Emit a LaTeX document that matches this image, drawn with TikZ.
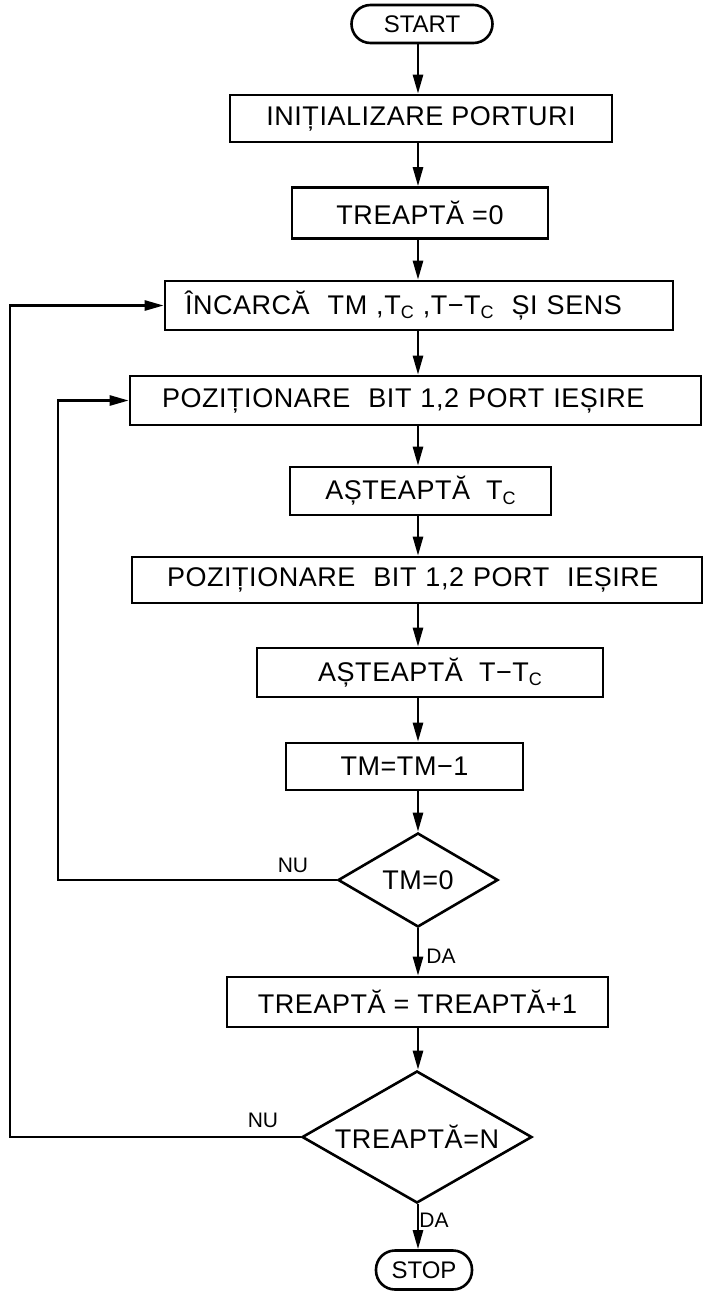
\documentclass[tikz,border=0pt]{standalone}
\usepackage{fontspec}
\setmainfont{Liberation Sans}
\newfontfamily\lettering{Liberation Sans}[LetterSpace=2]
\usetikzlibrary{arrows.meta,shapes.geometric}
\newcommand{\sbc}[1]{\raisebox{-0.3ex}{\fontsize{18}{18}\selectfont #1}}
\tikzset{
  box/.style={draw, line width=2.6pt, rectangle, inner sep=0pt,
    font=\lettering\fontsize{27}{32}\selectfont},
  term/.style={draw, line width=2.6pt, rectangle, rounded corners=19pt, inner sep=0pt,
    font=\fontsize{24}{28}\selectfont},
  dec/.style={draw, line width=2.6pt, diamond, aspect=1.7, inner sep=0pt,
    font=\lettering\fontsize{27}{32}\selectfont},
  arr/.style={line width=2.6pt, -{Triangle[length=19pt,width=10pt]}},
  lab/.style={inner sep=0pt, font=\fontsize{21}{25}\selectfont}
}
\begin{document}
\begin{tikzpicture}[x=1pt,y=-1pt]
\useasboundingbox (0,0) rectangle (703,1291);

\node[term, minimum width=141pt, minimum height=38pt] (start) at (422,24) {START};
\node[box, minimum width=382pt, minimum height=47pt] (init) at (421,118.5) {INIȚIALIZARE PORTURI};
\node[box, minimum width=256pt, minimum height=51pt] (t0) at (420,213) {TREAPTĂ =0};
\node[box, minimum height=49pt, text width=468pt, inner xsep=20pt, align=left] (load) at (419,305.5)
  {ÎNCARCĂ \ TM ,T\sbc{C} ,T−T\sbc{C}\ \ ȘI SENS};
\node[box, minimum height=49pt, text width=507pt, inner xsep=32pt, align=left] (poz1) at (415.5,400.5)
  {POZIȚIONARE \ BIT 1,2 PORT IEȘIRE};
\node[box, minimum width=261pt, minimum height=48pt] (ast1) at (420.5,491) {AȘTEAPTĂ \ T\sbc{C}};
\node[box, minimum height=46pt, text width=500pt, inner xsep=35pt, align=left] (poz2) at (417,580)
  {POZIȚIONARE\ \ BIT 1,2 PORT \ IEȘIRE};
\node[box, minimum width=346pt, minimum height=49pt] (ast2) at (430,672.5) {AȘTEAPTĂ\ \ T−T\sbc{C}};
\node[box, minimum width=237pt, minimum height=47pt] (tm) at (404.5,766.5) {TM=TM−1};
\node[dec, minimum width=160pt, minimum height=94pt] (d1) at (418,880) {TM=0};
\node[box, minimum width=381pt, minimum height=50pt] (inc) at (417.5,1002) {TREAPTĂ = TREAPTĂ+1};
\node[dec, minimum width=230pt, minimum height=132pt] (d2) at (417,1137) {TREAPTĂ=N};
\node[term, minimum width=96pt, minimum height=39pt] (stop) at (424,1270) {STOP};

\coordinate (ax) at (418,0);
\coordinate (lp1) at (58,0);
\coordinate (lp2) at (10,0);

\foreach \a/\b in {start/init, init/t0, t0/load, load/poz1, poz1/ast1, ast1/poz2,
  poz2/ast2, ast2/tm, tm/d1, d1/inc, inc/d2, d2/stop}
  \draw[arr] (\a.south -| ax) -- (\b.north -| ax);

\draw[arr] (d1.west) -- (d1.west -| lp1) |- (poz1.west);
\draw[arr] (d2.west) -- (d2.west -| lp2) |- (load.west);

\node[lab] (nu1) at (293,865) {NU};
\node[lab] (da1) at (441,956) {DA};
\node[lab] (nu2) at (263,1120) {NU};
\node[lab] (da2) at (434,1220) {DA};
\end{tikzpicture}
\end{document}
